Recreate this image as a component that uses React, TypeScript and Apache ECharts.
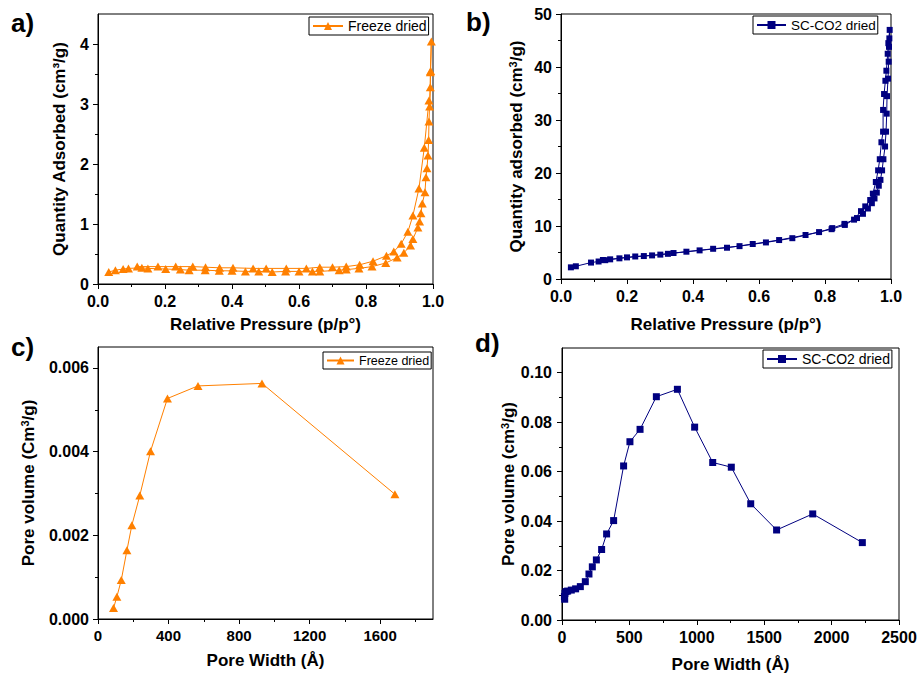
import React, { useEffect, useRef } from "react";
import * as echarts from "echarts";

const FONT = '"Liberation Sans", Arial, Helvetica, sans-serif';
const ORANGE = "#FF8000";
const NAVY = "#000080";

// ---- Panel a: Freeze dried N2 isotherm (p/p0, cm3/g)
const freezeAdsorption: [number, number][] = [
  [0.032, 0.2], [0.052, 0.23], [0.075, 0.25], [0.091, 0.26], [0.131, 0.27], [0.149, 0.26],
  [0.202, 0.25], [0.246, 0.24], [0.272, 0.23], [0.32, 0.23], [0.362, 0.22], [0.4, 0.22],
  [0.44, 0.21], [0.48, 0.21], [0.52, 0.2], [0.56, 0.21], [0.6, 0.21], [0.64, 0.21],
  [0.662, 0.21], [0.72, 0.23], [0.741, 0.24], [0.779, 0.26], [0.818, 0.29], [0.859, 0.35],
  [0.893, 0.44], [0.913, 0.52], [0.933, 0.64], [0.94, 0.75], [0.955, 0.94], [0.96, 1.04],
  [0.964, 1.18], [0.968, 1.34], [0.976, 1.53], [0.979, 1.78], [0.982, 1.93], [0.985, 2.14],
  [0.987, 2.4], [0.988, 2.71], [0.992, 3.28], [0.992, 3.53], [0.995, 4.04],
];
const freezeDesorption: [number, number][] = [
  [0.993, 3.55], [0.99, 2.96], [0.988, 3.06], [0.974, 2.27], [0.958, 1.59], [0.94, 1.14],
  [0.925, 0.87], [0.905, 0.67], [0.883, 0.54], [0.861, 0.47], [0.821, 0.38], [0.781, 0.32],
  [0.741, 0.29], [0.7, 0.28], [0.662, 0.28], [0.622, 0.26], [0.562, 0.26], [0.502, 0.26],
  [0.463, 0.26], [0.403, 0.27], [0.363, 0.27], [0.321, 0.28], [0.283, 0.29], [0.232, 0.29],
  [0.179, 0.29], [0.117, 0.29],
];

// ---- Panel b: SC-CO2 dried N2 isotherm
const scco2Adsorption: [number, number][] = [
  [0.03, 2.2], [0.045, 2.4], [0.091, 3.1], [0.114, 3.3], [0.134, 3.55], [0.177, 3.9],
  [0.225, 4.25], [0.276, 4.45], [0.324, 4.75], [0.38, 5.15], [0.461, 5.7], [0.541, 6.2],
  [0.621, 6.9], [0.701, 7.7], [0.782, 8.85], [0.822, 9.6], [0.859, 10.4], [0.897, 11.5],
  [0.915, 12.3], [0.93, 13.3], [0.942, 14.3], [0.95, 15.2], [0.957, 16.3], [0.963, 17.6],
  [0.968, 18.7], [0.973, 20.5], [0.977, 22.6], [0.982, 25.0], [0.985, 27.8], [0.987, 31.2],
  [0.988, 34.5], [0.991, 37.8], [0.993, 41.0], [0.994, 43.8], [0.995, 45.4], [0.996, 47.0],
];
const scco2Desorption: [number, number][] = [
  [0.992, 44.5], [0.99, 42.5], [0.986, 39.3], [0.983, 37.4], [0.979, 34.9], [0.976, 31.9],
  [0.976, 27.8], [0.971, 25.8], [0.966, 22.6], [0.961, 20.5], [0.954, 18.3], [0.945, 16.1],
  [0.937, 14.9], [0.922, 13.7], [0.909, 12.8], [0.888, 11.2], [0.86, 10.2], [0.82, 9.4],
  [0.741, 8.3], [0.661, 7.35], [0.581, 6.6], [0.503, 5.9], [0.42, 5.4], [0.341, 4.9],
  [0.301, 4.6], [0.251, 4.33], [0.2, 4.08], [0.149, 3.71], [0.127, 3.58],
];

// ---- Panel c: Freeze dried pore size distribution
const freezePoreWidth = [88, 107, 132, 164, 192, 237, 298, 394, 567, 930, 1684];
const freezePoreVolume = [0.00026, 0.00053, 0.00093, 0.00164, 0.00224, 0.00295, 0.00401, 0.00527, 0.00557, 0.00563, 0.00298];

// ---- Panel d: SC-CO2 dried pore size distribution
const scco2PoreWidth = [20, 18, 22, 30, 42, 69, 101, 136, 173, 200, 225, 255, 294, 331, 383, 457, 504, 579, 700, 856, 984, 1118, 1256, 1400, 1592, 1860, 2228];
const scco2PoreVolume = [0.0084, 0.0095, 0.0108, 0.0115, 0.0117, 0.0121, 0.0126, 0.0135, 0.0155, 0.0186, 0.0215, 0.0243, 0.0285, 0.0348, 0.0402, 0.0623, 0.0721, 0.0771, 0.0903, 0.0933, 0.078, 0.0637, 0.0618, 0.047, 0.0364, 0.0429, 0.0313];

// ---- Ticks
const isoXTicks = [0, 0.2, 0.4, 0.6, 0.8, 1.0];
const isoXMinor = [0.1, 0.3, 0.5, 0.7, 0.9];
const aYTicks = [0, 1, 2, 3, 4];
const aYMinor = [0.5, 1.5, 2.5, 3.5];
const bYTicks = [0, 10, 20, 30, 40, 50];
const bYMinor = [5, 15, 25, 35, 45];
const cXTicks = [0, 400, 800, 1200, 1600];
const cXMinor = [200, 600, 1000, 1400, 1800];
const cYTicks = [0, 0.002, 0.004, 0.006];
const cYMinor = [0.001, 0.003, 0.005];
const dXTicks = [0, 500, 1000, 1500, 2000, 2500];
const dXMinor = [250, 750, 1250, 1750, 2250];
const dYTicks = [0, 0.02, 0.04, 0.06, 0.08, 0.1];
const dYMinor = [0.01, 0.03, 0.05, 0.07, 0.09];

const zip = (xs: number[], ys: number[]) => xs.map((x, i) => [x, ys[i]]);

type AxisSpec = {
  min: number; max: number; ticks: number[]; minor: number[];
  digits: number; name: string; nameGap: number; labelSize: number; margin: number;
};

const blackLine = { color: "#000", width: 1 };

function mainAxis(spec: AxisSpec, gridIndex: number, isX: boolean, rich?: any) {
  return {
    type: "value",
    gridIndex,
    min: spec.min,
    max: spec.max,
    position: isX ? "bottom" : "left",
    axisLine: { show: true, onZero: false, lineStyle: blackLine },
    axisTick: { show: true, inside: false, length: 5, customValues: spec.ticks, lineStyle: blackLine },
    axisLabel: {
      show: true,
      customValues: spec.ticks,
      formatter: (v: number) => v.toFixed(spec.digits),
      margin: spec.margin,
      fontSize: spec.labelSize,
      fontWeight: "bold",
      fontFamily: FONT,
      color: "#000",
    },
    splitLine: { show: false },
    name: spec.name,
    nameLocation: "middle",
    nameGap: spec.nameGap,
    nameTextStyle: {
      fontSize: 17,
      fontWeight: "bold",
      fontFamily: FONT,
      color: "#000",
      rich: rich,
    },
  };
}

function minorAxis(spec: AxisSpec, gridIndex: number, isX: boolean) {
  return {
    type: "value",
    gridIndex,
    min: spec.min,
    max: spec.max,
    position: isX ? "bottom" : "left",
    offset: 0,
    axisLine: { show: false, onZero: false },
    axisTick: { show: true, inside: false, length: 3, customValues: spec.minor, lineStyle: blackLine },
    axisLabel: { show: false },
    splitLine: { show: false },
  };
}

const supRich = {
  sup: { fontSize: 11, fontWeight: "bold", fontFamily: FONT, color: "#000", verticalAlign: "top", padding: [0, 0, 7, 0] },
};

const panels = [
  {
    grid: { left: 98, top: 14, width: 335, height: 270 },
    x: { min: 0, max: 1, ticks: isoXTicks, minor: isoXMinor, digits: 1, name: "Relative Pressure (p/p°)", nameGap: 32, labelSize: 16, margin: 9 },
    y: { min: 0, max: 4.5, ticks: aYTicks, minor: aYMinor, digits: 0, name: "Quantity Adsorbed (cm³/g)", nameGap: 30, labelSize: 16, margin: 9 },
    rich: undefined,
  },
  {
    grid: { left: 561, top: 14, width: 330, height: 265 },
    x: { min: 0, max: 1, ticks: isoXTicks, minor: isoXMinor, digits: 1, name: "Relative Pressure (p/p°)", nameGap: 37, labelSize: 16, margin: 9 },
    y: { min: 0, max: 50, ticks: bYTicks, minor: bYMinor, digits: 0, name: "Quantity adsorbed (cm{sup|3}/g)", nameGap: 36, labelSize: 16, margin: 9 },
    rich: supRich,
  },
  {
    grid: { left: 98, top: 347, width: 335, height: 272 },
    x: { min: 0, max: 1900, ticks: cXTicks, minor: cXMinor, digits: 0, name: "Pore Width (Å)", nameGap: 33, labelSize: 15, margin: 9 },
    y: { min: 0, max: 0.0065, ticks: cYTicks, minor: cYMinor, digits: 3, name: "Pore volume (Cm{sup|3}/g)", nameGap: 61, labelSize: 16, margin: 9 },
    rich: supRich,
  },
  {
    grid: { left: 562, top: 348, width: 337, height: 272 },
    x: { min: 0, max: 2500, ticks: dXTicks, minor: dXMinor, digits: 0, name: "Pore Width (Å)", nameGap: 36, labelSize: 16, margin: 9 },
    y: { min: 0, max: 0.11, ticks: dYTicks, minor: dYMinor, digits: 2, name: "Pore volume (cm{sup|3}/g)", nameGap: 45, labelSize: 16, margin: 10 },
    rich: supRich,
  },
];

function legend(name: string, left: number, top: number, fontSize: number, itemWidth: number) {
  return {
    data: [name],
    left,
    top,
    orient: "horizontal",
    backgroundColor: "#fff",
    borderColor: "#000",
    borderWidth: 1,
    borderRadius: 0,
    padding: [2, 2, 2, 3],
    itemWidth,
    itemHeight: 10,
    selectedMode: false,
    textStyle: { fontSize, fontFamily: FONT, color: "#000" },
  };
}

export default function App() {
  const ref = useRef<HTMLDivElement>(null);
  useEffect(() => {
    if (!ref.current) return;
    const chart = echarts.init(ref.current, null, { renderer: "svg" });
    const xAxes: any[] = [];
    const yAxes: any[] = [];
    panels.forEach((p, i) => {
      xAxes.push(mainAxis(p.x as AxisSpec, i, true));
      xAxes.push(minorAxis(p.x as AxisSpec, i, true));
      yAxes.push(mainAxis(p.y as AxisSpec, i, false, p.rich));
      yAxes.push(minorAxis(p.y as AxisSpec, i, false));
    });
    const lineSeries = (name: string, idx: number, data: any[], color: string, symbol: string, size: any) => ({
      type: "line",
      name,
      xAxisIndex: idx * 2,
      yAxisIndex: idx * 2,
      data,
      symbol,
      symbolSize: size,
      showSymbol: true,
      showAllSymbol: true,
      clip: false,
      lineStyle: { color, width: 1 },
      itemStyle: { color, borderWidth: 0 },
      emphasis: { disabled: true },
    });
    chart.setOption({
      animation: false,
      backgroundColor: "#fff",
      grid: panels.map((p) => ({ ...p.grid, show: true, borderColor: "#000", borderWidth: 1, backgroundColor: "transparent", containLabel: false })),
      xAxis: xAxes,
      yAxis: yAxes,
      legend: [
        legend("Freeze dried", 309, 17, 14, 30),
        legend("SC-CO2 dried", 753, 16, 13.5, 29),
        legend("Freeze dried", 323, 352, 12.5, 27),
        legend("SC-CO2 dried", 763, 350, 14, 30),
      ],
      series: [
        lineSeries("Freeze dried", 0, [...freezeAdsorption, ...freezeDesorption], ORANGE, "triangle", [9, 8]),
        lineSeries("SC-CO2 dried", 1, [...scco2Adsorption, ...scco2Desorption], NAVY, "rect", 6),
        lineSeries("Freeze dried", 2, zip(freezePoreWidth, freezePoreVolume), ORANGE, "triangle", [9, 8]),
        lineSeries("SC-CO2 dried", 3, zip(scco2PoreWidth, scco2PoreVolume), NAVY, "rect", 7),
      ],
      graphic: [
        { type: "text", left: 11, top: 10, style: { text: "a)", fontSize: 26, fontWeight: "bold", fontFamily: FONT, fill: "#000" } },
        { type: "text", left: 466, top: 9, style: { text: "b)", fontSize: 26, fontWeight: "bold", fontFamily: FONT, fill: "#000" } },
        { type: "text", left: 11, top: 334, style: { text: "c)", fontSize: 26, fontWeight: "bold", fontFamily: FONT, fill: "#000" } },
        { type: "text", left: 475, top: 330, style: { text: "d)", fontSize: 26, fontWeight: "bold", fontFamily: FONT, fill: "#000" } },
      ],
    });
    return () => chart.dispose();
  }, []);
  return (
    <div
      ref={ref}
      style={{ position: "fixed", left: 0, top: 0, width: 923, height: 680, background: "#fff" }}
    />
  );
}
